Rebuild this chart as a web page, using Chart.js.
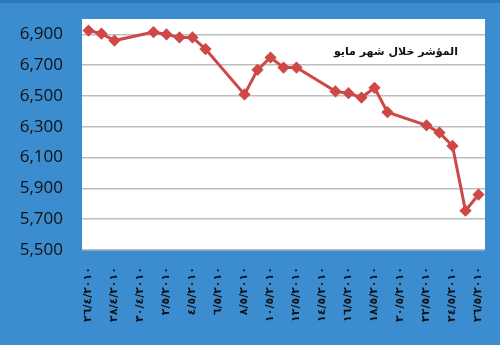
<!DOCTYPE html>
<html>
<head>
<meta charset="utf-8">
<script src="https://cdn.jsdelivr.net/npm/chart.js@4.4.1/dist/chart.umd.min.js"></script>
<style>
  html, body { margin: 0; padding: 0; background: #3b8dd0; }
  #wrap { width: 500px; height: 345px; position: relative; }
</style>
</head>
<body>
<div id="wrap"><canvas id="chart"></canvas></div>
<script>
// trading days and index close
const pointDates = ['2010-04-26', '2010-04-27', '2010-04-28', '2010-05-01', '2010-05-02', '2010-05-03',
  '2010-05-04', '2010-05-05', '2010-05-08', '2010-05-09', '2010-05-10', '2010-05-11', '2010-05-12',
  '2010-05-15', '2010-05-16', '2010-05-17', '2010-05-18', '2010-05-19', '2010-05-22', '2010-05-23',
  '2010-05-24', '2010-05-25', '2010-05-26'];
const indexValues = [6925, 6905, 6860, 6915, 6900, 6880, 6880, 6805, 6510, 6670, 6750, 6685, 6685,
  6530, 6518, 6490, 6553, 6395, 6310, 6262, 6176, 5755, 5860];

const tickLabels = ['٢٦/٤/٢٠١٠', '٢٨/٤/٢٠١٠', '٣٠/٤/٢٠١٠', '٢/٥/٢٠١٠', '٤/٥/٢٠١٠', '٦/٥/٢٠١٠',
  '٨/٥/٢٠١٠', '١٠/٥/٢٠١٠', '١٢/٥/٢٠١٠', '١٤/٥/٢٠١٠', '١٦/٥/٢٠١٠', '١٨/٥/٢٠١٠', '٢٠/٥/٢٠١٠',
  '٢٢/٥/٢٠١٠', '٢٤/٥/٢٠١٠', '٢٦/٥/٢٠١٠'];
const yTicks = [5500, 5700, 5900, 6100, 6300, 6500, 6700, 6900];
const chartTitle = 'المؤشر خلال شهر مايو';

const START = Date.UTC(2010, 3, 26);
const dayOfIso = s => { const [y, m, d] = s.split('-').map(Number); return (Date.UTC(y, m - 1, d) - START) / 864e5; };
const latin = s => s.replace(/[\u0660-\u0669]/g, c => c.charCodeAt(0) - 0x660);
const dayOfLabel = s => { const [d, m, y] = latin(s).split('/').map(Number); return (Date.UTC(y, m - 1, d) - START) / 864e5; };

const framePlugin = {
  id: 'frame',
  beforeDraw(chart) {
    const { ctx, chartArea: a, width } = chart;
    ctx.save();
    ctx.fillStyle = '#2c79ba';
    ctx.fillRect(0, 0, width, 3);
    ctx.fillStyle = '#ffffff';
    ctx.fillRect(a.left, a.top, a.right - a.left, a.bottom - a.top);
    ctx.restore();
  }
};

const titlePlugin = {
  id: 'innerTitle',
  afterDatasetsDraw(chart) {
    const { ctx, chartArea: a } = chart;
    ctx.save();
    ctx.font = 'bold 11px "DejaVu Sans"';
    ctx.fillStyle = '#111';
    ctx.textAlign = 'right';
    ctx.textBaseline = 'middle';
    ctx.fillText(chartTitle, a.right - 27, a.top + 33);
    ctx.restore();
  }
};

new Chart(document.getElementById('chart'), {
  type: 'line',
  data: {
    datasets: [{
      data: pointDates.map((d, i) => ({ x: dayOfIso(d), y: indexValues[i] })),
      borderColor: '#cf4747',
      backgroundColor: '#cf4747',
      borderWidth: 3,
      tension: 0,
      pointStyle: 'rectRot',
      pointRadius: 4,
      pointHoverRadius: 4
    }]
  },
  options: {
    responsive: true,
    maintainAspectRatio: false,
    animation: false,
    layout: { padding: { top: 19, right: 15, left: 0, bottom: 0 } },
    plugins: { legend: { display: false }, tooltip: { enabled: false } },
    scales: {
      x: {
        type: 'linear',
        min: -0.5,
        max: 30.5,
        afterBuildTicks: s => { s.ticks = tickLabels.map(l => ({ value: dayOfLabel(l) })); },
        afterFit: s => { s.height = 95; s.paddingLeft = 0; s.paddingRight = 0; },
        grid: { display: false, drawTicks: false },
        border: { display: false },
        ticks: {
          autoSkip: false,
          maxRotation: 90,
          minRotation: 90,
          padding: 17,
          color: '#111',
          font: { family: '"DejaVu Sans"', size: 11, weight: 'bold' },
          callback: (v, i) => tickLabels[i]
        }
      },
      y: {
        min: 5500,
        max: 7000,
        afterBuildTicks: s => { s.ticks = yTicks.map(v => ({ value: v })); },
        afterFit: s => { s.width = 82; s.paddingTop = 0; s.paddingBottom = 0; },
        grid: { color: '#bdbdbd', lineWidth: 1.5, drawTicks: false },
        border: { display: false },
        ticks: {
          padding: 19,
          color: '#111',
          font: { family: '"Open Sans"', size: 17 },
          callback: v => v.toLocaleString('en-US')
        }
      }
    }
  },
  plugins: [framePlugin, titlePlugin]
});
</script>
</body>
</html>
